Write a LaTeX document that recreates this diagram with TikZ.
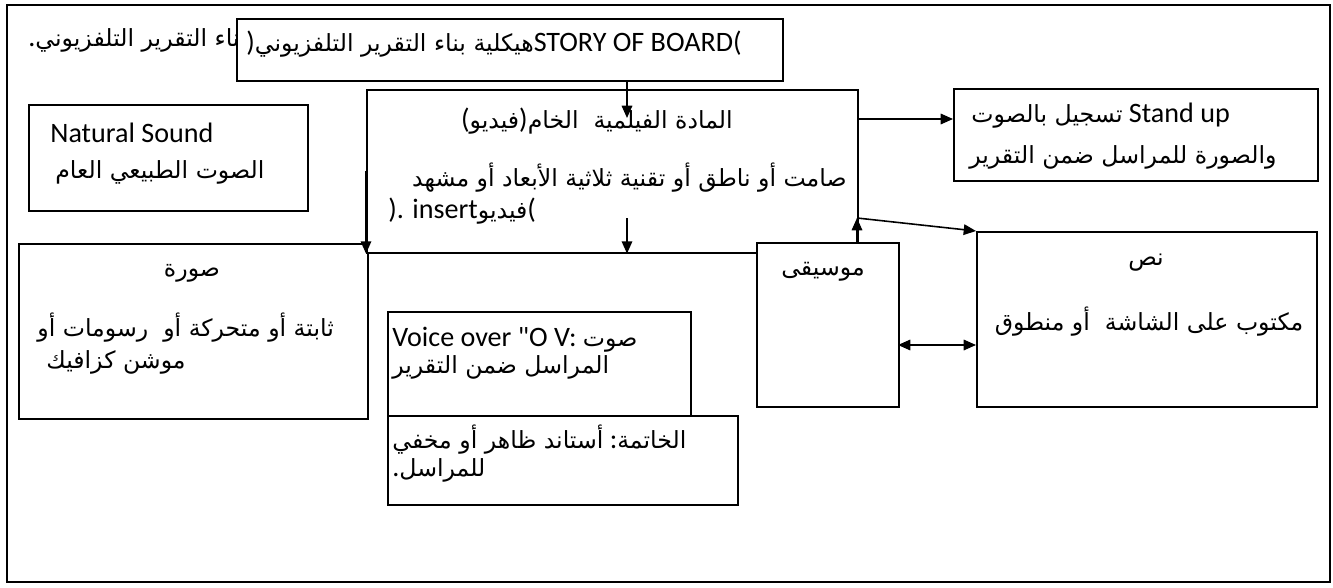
\documentclass[tikz,border=0pt]{standalone}
\usepackage{fontspec}
\setmainfont{Carlito}
\newfontfamily\arfont[Script=Arabic,Scale=0.84]{DejaVu Sans}
\TeXXeTstate=1
\newcommand{\ar}[1]{{\arfont\beginR #1\endR}}
\usetikzlibrary{arrows.meta,positioning}

\tikzset{
  box/.style={draw,line width=0.9pt,fill=white,anchor=north west,inner sep=0pt},
  wh/.style 2 args={minimum width=#1*0.02cm,minimum height=#2*0.02cm},
  lbl/.style={inner sep=0pt,font=\fontsize{16}{20}\selectfont},
  arr/.style={line width=0.9pt,-{Triangle[length=7pt,width=6pt]}},
  arrs/.style={line width=0.9pt,{Triangle[length=7pt,width=6pt]}-{Triangle[length=7pt,width=6pt]}}
}

\begin{document}
\begin{tikzpicture}[x=0.02cm,y=-0.02cm]
  \useasboundingbox (0,0) rectangle (1333,588);

  \node[box,wh={1323}{577}]	(page)	at (6,4)	{};
  \node[lbl,anchor=east]	(title)	at (247,40)	{.\ar{بناء التقرير التلفزيوني}};

  \node[box,wh={546}{62}]	(story)	at (236,18)	{};
  \node[lbl,anchor=west]	(storyT)	at (246,44)	{)\ar{هيكلية بناء التقرير التلفزيوني}STORY OF BOARD(};

  \node[box,wh={279}{106}]	(natural)	at (28,104)	{};
  \node[lbl,anchor=west]	(naturalA)	at (50,133)	{Natural Sound};
  \node[lbl,anchor=west]	(naturalB)	at (55,172)	{\ar{الصوت الطبيعي العام}};

  \node[box,wh={349}{175}]	(picture)	at (18,243)	{};
  \node[lbl]			(pictureA)	at (192,273)	{\ar{صورة}};
  \node[lbl,anchor=west]	(pictureB)	at (37,328)	{\ar{ثابتة أو متحركة أو\ \ رسومات أو}};
  \node[lbl,anchor=west]	(pictureC)	at (46,362)	{\ar{موشن كزافيك}};

  \node[box,wh={491}{163}]	(video)	at (366,89)	{};
  \node[lbl,anchor=east]	(videoA)	at (733,121)	{(\ar{فيديو})\ar{المادة الفيلمية\ \ الخام}};
  \node[lbl,anchor=east]	(videoB)	at (847,178)	{\ar{صامت أو ناطق أو تقنية ثلاثية الأبعاد أو مشهد}};
  \node[lbl,anchor=west]	(videoC)	at (388,211)	{). insert\ar{فيديو}(};

  \node[box,wh={364}{92}]	(stand)	at (953,88)	{};
  \node[lbl,anchor=west]	(standA)	at (971,116)	{\ar{تسجيل بالصوت} Stand up};
  \node[lbl,anchor=west]	(standB)	at (969,157)	{\ar{والصورة للمراسل ضمن التقرير}};

  \node[box,wh={142}{164}]	(music)	at (756,242)	{};
  \node[lbl]			(musicT)	at (823,272)	{\ar{موسيقى}};

  \node[box,wh={340}{175}]	(textb)	at (976,231)	{};
  \node[lbl]			(textA)	at (1146,263)	{\ar{نص}};
  \node[lbl]			(textB)	at (1149,322)	{\ar{مكتوب على الشاشة\ \ أو منطوق}};

  \node[box,wh={303}{104}]	(voice)	at (387,311)	{};
  \node[lbl,anchor=west]	(voiceA)	at (392,340)	{Voice over \textquotedbl O V: \ar{صوت}};
  \node[lbl,anchor=west]	(voiceB)	at (392,367)	{\ar{المراسل ضمن التقرير}};

  \node[box,wh={350}{89}]	(ending)	at (387,415)	{};
  \node[lbl,anchor=west]	(endingA)	at (392,440)	{\ar{أستاند ظاهر أو مخفي} :\ar{الخاتمة}};
  \node[lbl,anchor=west]	(endingB)	at (392,470)	{.\ar{للمراسل}};

  \coordinate (c1) at (627,118);
  \coordinate (c2) at (627,218);
  \coordinate (c3) at (857,119);
  \coordinate (c4) at (857,218);
  \coordinate (c5) at (898,345);

  \draw[arr] (story.south -| c1) -- (c1);
  \draw[arr] (video.west) -- (video.south west);
  \draw[arr] (c2) -- (c2 |- video.south);
  \draw[arr] (c3) -- (c3 -| stand.west);
  \draw[arr] (music.north -| c4) -- (c4);
  \draw[arr] (c4) -- (textb.north west);
  \draw[arrs] (c5) -- (c5 -| textb.west);
\end{tikzpicture}
\end{document}
